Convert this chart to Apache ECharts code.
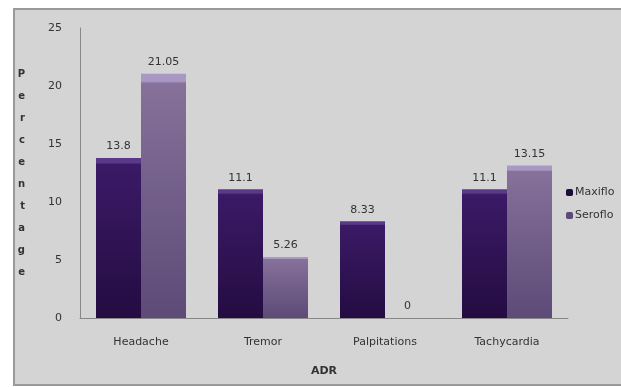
<!DOCTYPE html>
<html>
<head>
<meta charset="utf-8">
<script src="https://cdn.jsdelivr.net/npm/echarts@6/dist/echarts.min.js"></script>
<style>
  html, body { margin: 0; padding: 0; background: #fff; }
  #root { width: 621px; height: 387px; }
</style>
</head>
<body>
<div id="root"></div>
<script>
var categories = ['Headache', 'Tremor', 'Palpitations', 'Tachycardia'];
var maxifloValues = [13.8, 11.1, 8.33, 11.1];
var serofloValues = [21.05, 5.26, 0, 13.15];
var yTicks = [0, 5, 10, 15, 20, 25];

(function () {
    const chart = echarts.init(document.getElementById('root'));

    // vertical bar gradient, lighter at the top
    var grad = (top, mid, bottom) => new echarts.graphic.LinearGradient(0, 0, 0, 1, [
        { offset: 0, color: top },
        { offset: 0.03, color: top },
        { offset: 0.04, color: mid },
        { offset: 1, color: bottom }
    ]);

    var labelStyle = {
        show: true,
        position: 'top',
        distance: 6,
        color: '#333',
        fontSize: 11,
        fontFamily: 'DejaVu Sans'
    };

    const option = {
        backgroundColor: '#fff',
        animation: false,
        textStyle: { fontFamily: 'DejaVu Sans' },
        graphic: [
            {
                type: 'rect',
                z: -10,
                shape: { x: 14, y: 9, width: 620, height: 376 },
                style: { fill: '#d4d4d4', stroke: '#9a9a9a', lineWidth: 2 }
            }
        ],
        grid: { left: 80, right: 53, top: 28, bottom: 69 },
        legend: {
            orient: 'vertical',
            left: 561,
            top: 182,
            itemWidth: 7,
            itemHeight: 7,
            itemGap: 12,
            itemStyle: { borderWidth: 0 },
            textStyle: { color: '#333', fontSize: 11, padding: [0, 0, 0, -3] },
            data: [
                { name: 'Maxiflo', itemStyle: { color: '#1e0c38' } },
                { name: 'Seroflo', itemStyle: { color: '#5d4a7d' } }
            ]
        },
        xAxis: {
            type: 'category',
            data: categories,
            name: 'ADR',
            nameLocation: 'middle',
            nameGap: 48,
            nameTextStyle: { color: '#333', fontSize: 11, fontWeight: 'bold' },
            axisLine: { lineStyle: { color: '#888', width: 1 } },
            axisTick: { show: false },
            axisLabel: { color: '#333', fontSize: 11, margin: 19 }
        },
        yAxis: {
            type: 'value',
            min: yTicks[0],
            max: yTicks[yTicks.length - 1],
            interval: 5,
            name: 'Percentage'.split('').join('\n'),
            nameLocation: 'middle',
            nameRotate: 0,
            nameGap: 55,
            nameTextStyle: { color: '#333', fontSize: 10, fontWeight: 'bold', lineHeight: 22 },
            axisLine: { show: true, lineStyle: { color: '#888', width: 1 } },
            axisTick: { show: false },
            splitLine: { show: false },
            axisLabel: { color: '#333', fontSize: 11, margin: 18 }
        },
        series: [
            {
                name: 'Maxiflo',
                type: 'bar',
                data: maxifloValues,
                barWidth: 45,
                barGap: '0%',
                itemStyle: { color: grad('#5a3a88', '#3b1a66', '#240c42') },
                label: labelStyle
            },
            {
                name: 'Seroflo',
                type: 'bar',
                data: serofloValues,
                barWidth: 45,
                itemStyle: { color: grad('#a998c4', '#857199', '#5d4a77') },
                label: labelStyle
            }
        ]
    };
    chart.setOption(option);
})();
</script>
</body>
</html>
